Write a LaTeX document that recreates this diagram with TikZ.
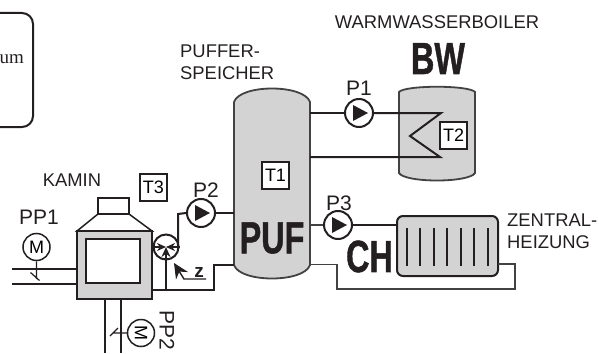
\documentclass[tikz,border=0pt]{standalone}
\usepackage{fontspec}
\setmainfont{Liberation Sans}
\newfontfamily\serifface{Liberation Serif}
\newfontfamily\bigface{Liberation Sans Bold}[FakeBold=1.2]
\usetikzlibrary{arrows.meta}
\definecolor{tankgray}{HTML}{D3D3D3}
\definecolor{inkdark}{HTML}{231F20}
\tikzset{
  pipe/.style={line width=2pt, draw=inkdark},
  thinpipe/.style={line width=1.5pt, draw=inkdark!85},
  vessel/.style={line width=1.8pt, draw=inkdark!85, fill=tankgray},
  pump/.style={circle, draw=inkdark, line width=2pt, fill=white, inner sep=0pt, minimum size=28pt},
  motor/.style={circle, draw=inkdark, line width=1.5pt, fill=white, inner sep=0pt, minimum size=27pt, font=\fontsize{18}{18}\selectfont},
  sensor/.style={draw=inkdark, line width=1.5pt, fill=white, inner sep=0pt, minimum size=27pt, font=\fontsize{18}{18}\selectfont},
  lab/.style={inner sep=0pt, text=inkdark, font=\fontsize{18.4}{22}\selectfont, align=left},
  tag/.style={inner sep=0pt, text=inkdark, font=\fontsize{21}{21}\selectfont},
  big/.style={inner sep=0pt, text=inkdark, font=\bigface\fontsize{45}{45}\selectfont, xscale=.72, transform shape}
}
\newcommand{\pumphead}[1]{\fill[inkdark] (#1) ++(-6,-8) -- ++(15,8) -- ++(-15,8) -- cycle;}
\begin{document}
\begin{tikzpicture}[x=1pt, y=-1pt]
  \useasboundingbox (0,0) rectangle (599,353);

  % room box, cut by the left edge
  \draw[line width=2pt, draw=inkdark, rounded corners=11pt] (-20,13) -- (33,13) -- (33,127) -- (-20,127);
  \node (room) at (24,59) [anchor=east, inner sep=0pt, text=inkdark, font=\serifface\fontsize{19}{19}\selectfont] {um};

  % vessels
  \draw[vessel] (234,102) .. controls (240,84) and (304,84) .. (310,102) -- (310,265) .. controls (304,283) and (240,283) .. (234,265) -- cycle;
  \draw[vessel] (399,92) .. controls (405,85) and (469,85) .. (475,92) -- (475,173) .. controls (469,183) and (405,183) .. (399,173) -- cycle;
  \node (rad) at (447.5,246) [draw=inkdark, line width=2pt, fill=tankgray, rounded corners=6pt, minimum width=101pt, minimum height=60pt, inner sep=0pt] {};
  \foreach \x in {407,420,434,447,461,474,488}
    \draw[line width=1.4pt, draw=inkdark] (\x,228) -- (\x,266);

  % stove
  \draw[line width=1.5pt, draw=inkdark, fill=white] (98,198) rectangle (129,214);
  \draw[line width=1.5pt, draw=inkdark, fill=white] (77,231) -- (98,214) -- (129,214) -- (152,231) -- cycle;
  \node (kamin) at (114.5,265) [draw=inkdark, line width=2pt, fill=tankgray, minimum width=75pt, minimum height=68pt, inner sep=0pt] {};
  \node (door) at (113,261) [draw=inkdark, line width=2pt, fill=white, minimum width=54pt, minimum height=44pt, inner sep=0pt] {};

  % pumps and valve
  \node (p1) at (359,113) [pump] {};
  \node (p2) at (201,213) [pump] {};
  \node (p3) at (338,225) [pump] {};
  \node (mix) at (166,247) [pump, minimum size=25pt] {};
  \pumphead{p1} \pumphead{p2} \pumphead{p3}

  \coordinate (p1in) at (310,113);
  \coordinate (coilA) at (441,113);
  \coordinate (coilB) at (410,136);
  \coordinate (coilC) at (440,157);
  \coordinate (coilD) at (310,157);
  \draw[pipe] (p1in) -- (p1);
  \draw[pipe] (p1) -- (coilA) -- (coilB) -- (coilC) -- (coilD);

  \coordinate (p2out) at (234,213);
  \coordinate (mixUp) at (178,214);
  \draw[pipe] (p2) -- (p2out);
  \draw[pipe] (mix.east) -| (mixUp) -- (p2.west);

  \coordinate (p3in) at (310,225);
  \draw[thinpipe] (p3in) -- (p3);
  \draw[pipe] (p3) -- (rad.west |- p3);

  \coordinate (ret) at (152,289.5);
  \coordinate (retA) at (213.5,289.5);
  \coordinate (retB) at (213.5,264.5);
  \coordinate (retC) at (234,264.5);
  \coordinate (mixB) at (166,289.5);
  \draw[pipe] (ret) -- (retA) -- (retB) -- (retC);
  \draw[pipe, -{Stealth[length=10pt,width=9pt]}] (mixB) -- (mix.center);
  \draw[pipe, -{Stealth[length=9pt,width=8pt]}] (mix.west) -- (mix.center);
  \draw[pipe, -{Stealth[length=9pt,width=8pt]}] (mix.east) -- (mix.center);

  \coordinate (chA) at (498,264);
  \coordinate (chB) at (515,264);
  \coordinate (chC) at (515,289);
  \coordinate (chD) at (337,289);
  \coordinate (chE) at (337,264.5);
  \coordinate (chF) at (310,264.5);
  \draw[thinpipe] (chA) -- (chB) -- (chC) -- (chD) -- (chE) -- (chF);

  % air feeds
  \node (m1) at (36.5,247) [motor] {M};
  \node (m2) at (141,333) [motor, rotate=-90] {M};
  \coordinate (a1) at (12,268.5);
  \coordinate (a2) at (12,284);
  \coordinate (a3) at (105,353);
  \coordinate (a4) at (121,353);
  \draw[pipe] (a1) -- (a1 -| kamin.west);
  \draw[pipe] (a2) -- (a2 -| kamin.west);
  \draw[pipe] (a3) -- (a3 |- kamin.south);
  \draw[pipe] (a4) -- (a4 |- kamin.south);
  \coordinate (flap1) at (36.5,279);
  \coordinate (flap2) at (113,333);
  \draw[line width=1.2pt, draw=inkdark] (m1) -- (flap1) ++(3,1.5) -- ++(-9,-8);
  \draw[line width=1.2pt, draw=inkdark] (m2) -- (flap2) ++(-3,3) -- ++(8,-8);

  % z arrow
  \coordinate (zTip) at (174,263);
  \coordinate (zMid) at (184,279);
  \coordinate (zEnd) at (206,279);
  \draw[line width=1.4pt, draw=inkdark, {Stealth[length=15pt,width=14pt]}-] (zTip) -- (zMid) -- (zEnd);
  \node (z) at (199,272) [inner sep=0pt, text=inkdark, font=\bfseries\fontsize{19}{19}\selectfont] {z};

  % sensors
  \node (t1) at (275.5,175.5) [sensor] {T1};
  \node (t2) at (453.5,135.5) [sensor] {T2};
  \node (t3) at (153.5,187.5) [sensor] {T3};

  % labels
  \node (boiler) at (437,22) [lab] {WARMWASSERBOILER};
  \node (puffer) at (180,62) [lab, anchor=west] {PUFFER-\\SPEICHER};
  \node (heizung) at (507,231) [lab, anchor=west] {ZENTRAL-\\HEIZUNG};
  \node (kaminlab) at (72,180) [lab] {KAMIN};
  \node (pp1) at (39,217) [tag] {PP1};
  \node (pp2) at (167,330) [tag, rotate=-90] {PP2};
  \node (p1lab) at (359,88) [tag] {P1};
  \node (p2lab) at (206,190) [tag] {P2};
  \node (p3lab) at (339,203) [tag] {P3};
  \node (bw) at (438,58.5) [big] {BW};
  \node (puf) at (272,238) [big] {PUF};
  \node (ch) at (369.5,256.5) [big] {CH};
\end{tikzpicture}
\end{document}
